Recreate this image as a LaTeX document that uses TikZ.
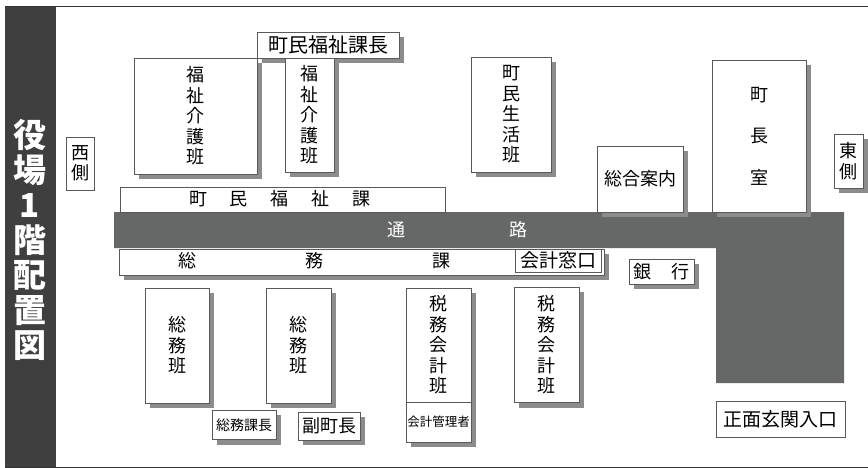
\documentclass[tikz,border=0pt]{standalone}
\usepackage{fontspec}
\usepackage{xcolor}
\usetikzlibrary{backgrounds}
\setmainfont{Noto Sans CJK JP}
\definecolor{barcolor}{HTML}{3F3F3F}
\definecolor{hallcolor}{HTML}{666868}
\definecolor{shadecolor}{HTML}{8C8C8C}
\tikzset{
  room/.style={draw=black!65, fill=white, line width=0.6pt, inner sep=0pt, align=center,
    font=\fontsize{18}{20.5}\selectfont},
  plain/.style={inner sep=0pt, align=center, font=\fontsize{18}{20.5}\selectfont}
}

\begin{document}
\begin{tikzpicture}[x=1pt, y=-1pt]
\useasboundingbox (0,0) rectangle (868,468);

% Frame and title bar
\draw[line width=1pt, black!80] (5,6.5) -- (868,6.5);
\draw[line width=1pt, black!80] (5,467) -- (868,467);
\node[fill=barcolor, minimum width=51pt, minimum height=460pt, inner sep=0pt] (titlebar) at (30,237) {};
\node[inner sep=0pt, align=center, text=white, font=\fontsize{33}{35}\selectfont\bfseries] (title) at (30,240) {役\\場\\1\\階\\配\\置\\図};

% Sides
\node[room, minimum width=28pt, minimum height=53pt] (west) at (80,163.5) {西\\側};
\node[room, minimum width=29pt, minimum height=54pt] (east) at (848.5,161) {東\\側};

% Upper row
\node[room, minimum width=123pt, minimum height=116pt] (welfareA) at (195.5,116) {福\\祉\\介\\護\\班};
\node[room, minimum width=49pt, minimum height=114pt] (welfareB) at (309.5,115) {福\\祉\\介\\護\\班};
\node[room, minimum width=142pt, minimum height=26pt, font=\fontsize{20}{22}\selectfont] (welfarechief) at (328,45) {町民福祉課長};
\node[room, minimum width=80pt, minimum height=115pt] (lifeteam) at (511,114.5) {町\\民\\生\\活\\班};
\node[room, minimum width=86pt, minimum height=66pt] (info) at (640,179) {総合案内};
\node[room, minimum width=94pt, minimum height=152pt] (mayor) at (759,136) {町\\[21pt]長\\[21pt]室};

% Section bands
\node[room, minimum width=325pt, minimum height=25pt] (welfaredept) at (282.5,200) {};
\node[plain] (welfaredepttext) at (280,199) {町\hspace{23pt}民\hspace{23pt}福\hspace{23pt}祉\hspace{23pt}課};
\node[room, minimum width=485pt, minimum height=26pt] (affairsdept) at (361.5,262) {};
\node[plain] (affairsdepttext) at (314,261) {総\hspace{109pt}務\hspace{109pt}課};
\node[room, minimum width=86pt, minimum height=23pt, font=\fontsize{19}{21}\selectfont] (window) at (558,260.5) {会計窓口};
\node[room, minimum width=65pt, minimum height=25pt] (bank) at (661.5,271.5) {銀\hspace{21pt}行};

% Lower row
\node[room, minimum width=64pt, minimum height=115pt] (affairsA) at (177,345.5) {総\\務\\班};
\node[room, minimum width=65pt, minimum height=115pt] (affairsB) at (298.5,345.5) {総\\務\\班};
\node[room, minimum width=65pt, minimum height=114pt] (taxA) at (438.5,345) {税\\務\\会\\計\\班};
\node[room, minimum width=65pt, minimum height=40pt, font=\fontsize{12.5}{15}\selectfont] (cashier) at (438.5,422) {会計管理者};
\node[room, minimum width=65pt, minimum height=115pt] (taxB) at (546.5,345) {税\\務\\会\\計\\班};
\node[room, minimum width=64pt, minimum height=29pt, font=\fontsize{14}{16}\selectfont] (affairschief) at (244,425) {総務課長};
\node[room, minimum width=62pt, minimum height=28pt] (deputy) at (329,426) {副町長};
\node[room, minimum width=129pt, minimum height=36pt, font=\fontsize{19}{21}\selectfont] (entrance) at (780.5,419.5) {正面玄関入口};

% Corridor and shadows go behind the rooms
\begin{scope}[on background layer]
\fill[hallcolor] (114,212) -- (844,212) -- (844,383) -- (716,383) -- (716,248) -- (114,248) -- cycle;
\foreach \roomname in {east,welfareA,welfareB,welfarechief,lifeteam,info,mayor,affairsdept,window,bank,
    affairsA,affairsB,taxA,cashier,taxB,affairschief,deputy}
  \fill[shadecolor] ([xshift=5pt,yshift=-5pt]\roomname.north west) rectangle ([xshift=5pt,yshift=-5pt]\roomname.south east);
\end{scope}
\node[plain, text=white] (hall) at (457,230) {通\hspace{104pt}路};

\end{tikzpicture}
\end{document}
